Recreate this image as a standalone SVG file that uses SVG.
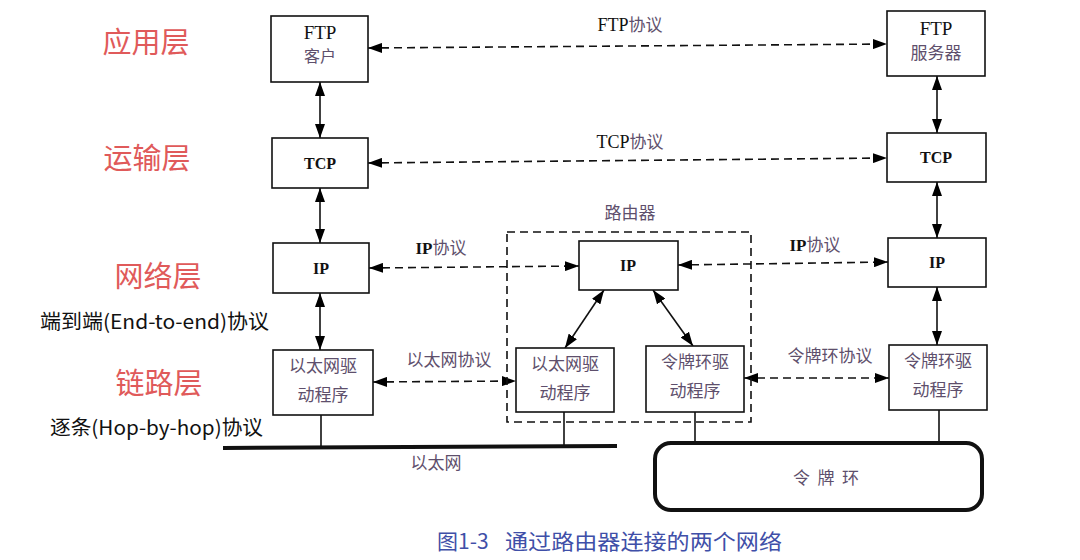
<svg xmlns="http://www.w3.org/2000/svg" width="1080" height="560" viewBox="0 0 1080 560">
<defs>
<marker id="ah" viewBox="0 0 14 10" refX="14" refY="5" markerWidth="14" markerHeight="10" markerUnits="userSpaceOnUse" orient="auto-start-reverse">
<path d="M0,0 L14,5 L0,10 z" fill="#000"/>
</marker>
<style>
.box{fill:#fff;stroke:#111;stroke-width:1.6}
.lat{font-family:"Liberation Serif","Times New Roman",serif;fill:#111;text-anchor:middle}
.cjk{font-family:"Noto Sans CJK SC","Noto Sans",sans-serif;fill:#5e4f6c;text-anchor:middle}
.lay{font-family:"Noto Sans CJK SC","Noto Sans",sans-serif;fill:#e05a5a;font-size:29px;text-anchor:middle}
.note{font-family:"Noto Sans CJK SC","Noto Sans",sans-serif;fill:#111;font-size:20px}
.solid{stroke:#111;stroke-width:1.6;fill:none}
.dash{stroke:#111;stroke-width:1.6;fill:none;stroke-dasharray:8 5}
.arr{marker-start:url(#ah);marker-end:url(#ah)}
</style>
</defs>
<rect width="1080" height="560" fill="#fff"/>

<g id="layer-labels">
<text class="lay" x="146" y="53">应用层</text>
<text class="lay" x="147" y="169">运输层</text>
<text class="lay" x="158" y="287">网络层</text>
<text class="lay" x="159" y="394">链路层</text>
<text class="note" x="40" y="329" textLength="229" lengthAdjust="spacingAndGlyphs">端到端(End-to-end)协议</text>
<text class="note" x="50" y="435" textLength="213" lengthAdjust="spacingAndGlyphs">逐条(Hop-by-hop)协议</text>
</g>

<g id="connectors">
<line class="solid arr" x1="320" y1="82" x2="320" y2="138"/>
<line class="solid arr" x1="320" y1="188" x2="320" y2="243"/>
<line class="solid arr" x1="320" y1="293" x2="320" y2="350"/>
<line class="solid" x1="321" y1="415" x2="321" y2="448"/>
<line class="solid arr" x1="937" y1="76" x2="937" y2="133"/>
<line class="solid arr" x1="937" y1="182" x2="937" y2="238"/>
<line class="solid arr" x1="937" y1="287" x2="937" y2="345"/>
<line class="solid" x1="939" y1="410" x2="939" y2="442"/>
<line class="solid arr" x1="604" y1="290" x2="565" y2="348"/>
<line class="solid arr" x1="653" y1="290" x2="693" y2="346"/>
<line class="solid" x1="564" y1="412" x2="564" y2="448"/>
<line class="solid" x1="695" y1="412" x2="695" y2="442"/>
<line class="dash arr" x1="368" y1="48" x2="887" y2="44"/>
<line class="dash arr" x1="368" y1="163" x2="887" y2="158"/>
<line class="dash arr" x1="369" y1="268" x2="579" y2="266"/>
<line class="dash arr" x1="678" y1="265" x2="888" y2="262"/>
<line class="dash arr" x1="373" y1="382" x2="516" y2="381"/>
<line class="dash arr" x1="744" y1="378" x2="889" y2="378"/>
<text class="lat" x="630" y="31" font-size="18">FTP<tspan class="cjk" font-size="17">协议</tspan></text>
<text class="lat" x="630" y="148" font-size="18">TCP<tspan class="cjk" font-size="17">协议</tspan></text>
<text class="lat" x="441" y="254" font-size="17" font-weight="bold">IP<tspan class="cjk" font-size="17" font-weight="normal">协议</tspan></text>
<text class="lat" x="815" y="251" font-size="17" font-weight="bold">IP<tspan class="cjk" font-size="17" font-weight="normal">协议</tspan></text>
<text class="cjk" x="449" y="366" font-size="17">以太网协议</text>
<text class="cjk" x="830" y="362" font-size="17">令牌环协议</text>
</g>

<g id="router">
<rect x="507" y="232" width="244" height="190" class="dash"/>
<text class="cjk" x="630" y="219" font-size="17">路由器</text>
</g>

<g id="ftp-client">
<rect class="box" x="271" y="16" width="97" height="66"/>
<text class="lat" x="320" y="39" font-size="19">FTP</text>
<text class="cjk" x="320" y="62" font-size="16">客户</text>
</g>
<g id="tcp-left">
<rect class="box" x="272" y="138" width="96" height="50"/>
<text class="lat" x="320" y="169" font-size="16" font-weight="bold">TCP</text>
</g>
<g id="ip-left">
<rect class="box" x="273" y="243" width="96" height="50"/>
<text class="lat" x="321" y="274" font-size="16" font-weight="bold">IP</text>
</g>
<g id="eth-driver-left">
<rect class="box" x="273" y="350" width="100" height="65"/>
<text class="cjk" x="323" y="372" font-size="17">以太网驱</text>
<text class="cjk" x="323" y="401" font-size="17">动程序</text>
</g>

<g id="ip-router">
<rect class="box" x="579" y="241" width="99" height="49"/>
<text class="lat" x="628" y="271" font-size="16" font-weight="bold">IP</text>
</g>
<g id="eth-driver-router">
<rect class="box" x="516" y="348" width="98" height="64"/>
<text class="cjk" x="565" y="370" font-size="17">以太网驱</text>
<text class="cjk" x="565" y="399" font-size="17">动程序</text>
</g>
<g id="token-driver-router">
<rect class="box" x="646" y="346" width="98" height="66"/>
<text class="cjk" x="695" y="368" font-size="17">令牌环驱</text>
<text class="cjk" x="695" y="397" font-size="17">动程序</text>
</g>

<g id="ftp-server">
<rect class="box" x="887" y="11" width="98" height="65"/>
<text class="lat" x="936" y="35" font-size="19">FTP</text>
<text class="cjk" x="936" y="59" font-size="17">服务器</text>
</g>
<g id="tcp-right">
<rect class="box" x="887" y="133" width="99" height="49"/>
<text class="lat" x="936" y="163" font-size="16" font-weight="bold">TCP</text>
</g>
<g id="ip-right">
<rect class="box" x="888" y="238" width="98" height="49"/>
<text class="lat" x="937" y="268" font-size="16" font-weight="bold">IP</text>
</g>
<g id="token-driver-right">
<rect class="box" x="889" y="345" width="98" height="65"/>
<text class="cjk" x="938" y="367" font-size="17">令牌环驱</text>
<text class="cjk" x="938" y="396" font-size="17">动程序</text>
</g>

<g id="ethernet">
<line x1="223" y1="448" x2="617" y2="446" stroke="#111" stroke-width="4"/>
<text class="cjk" x="436" y="469" font-size="17">以太网</text>
</g>
<g id="token-ring">
<rect x="655" y="443" width="327" height="67" rx="16" ry="16" fill="#fff" stroke="#111" stroke-width="4"/>
<text class="cjk" x="826" y="484" font-size="17" xml:space="preserve">令  牌  环</text>
</g>

<g id="caption">
<text x="437" y="549" font-family="Noto Sans CJK SC, Noto Sans, sans-serif" font-size="21" fill="#3f4fa8">图1-3</text>
<text x="505" y="549" font-family="Noto Sans CJK SC, Noto Sans, sans-serif" font-size="21" fill="#3f4fa8" textLength="277" lengthAdjust="spacingAndGlyphs">通过路由器连接的两个网络</text>
</g>
</svg>
